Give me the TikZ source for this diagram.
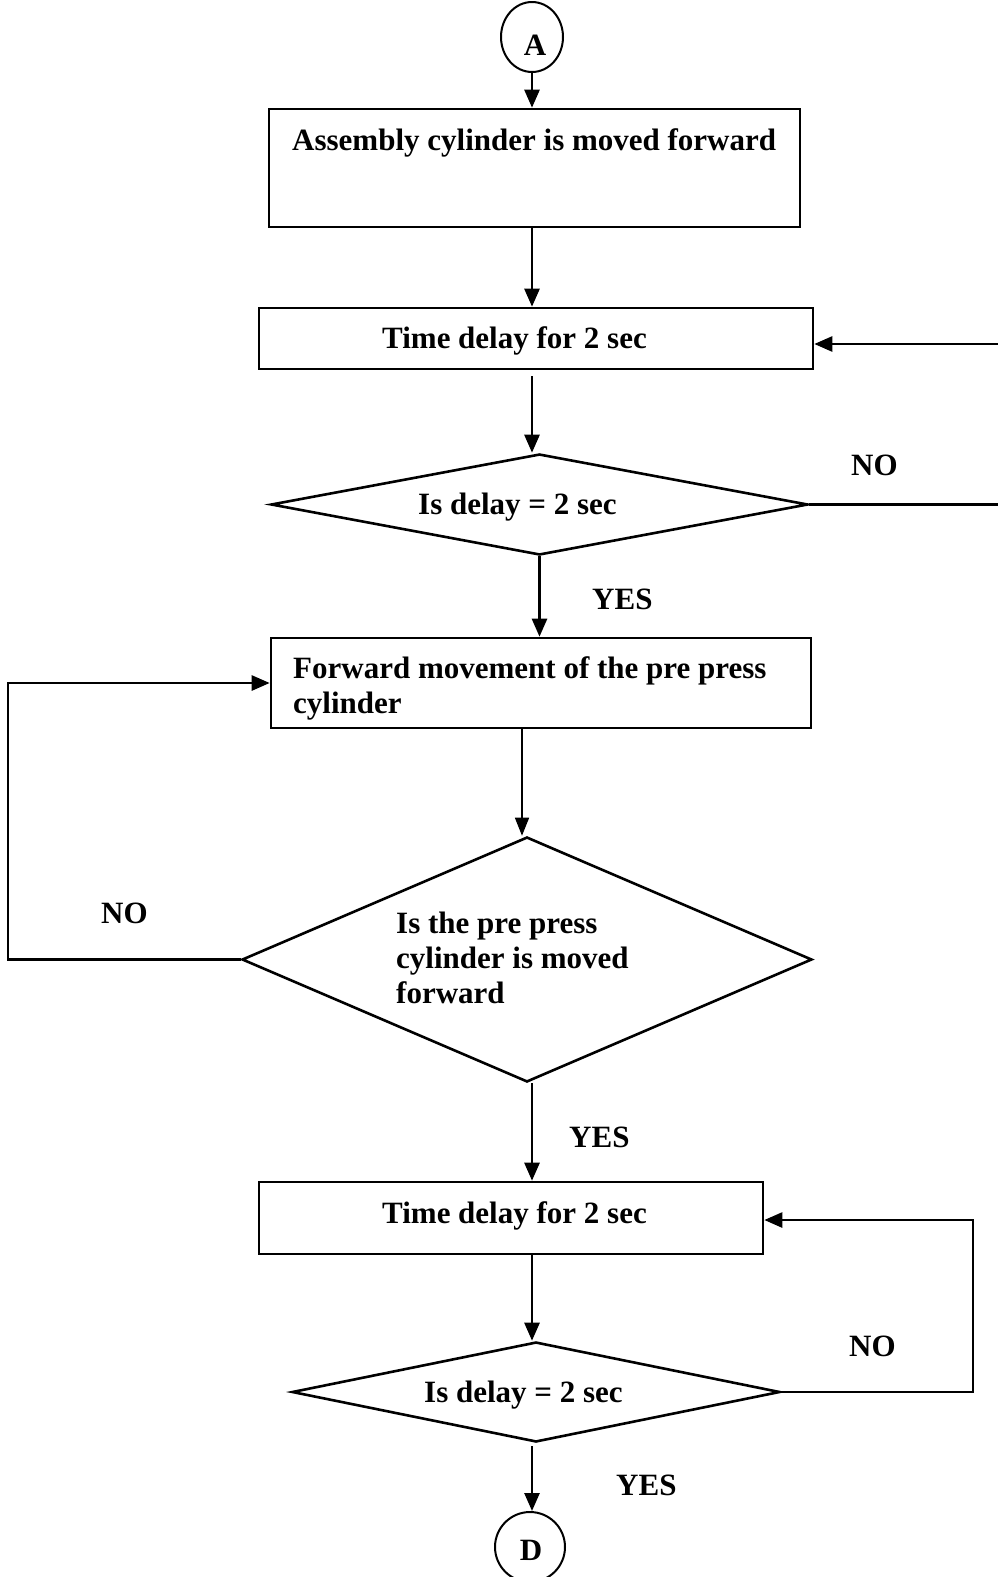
\documentclass[tikz,border=0pt]{standalone}
\usepackage{fontspec}
\setmainfont{Liberation Serif}
\usetikzlibrary{arrows.meta,shapes.geometric}
\begin{document}
\begin{tikzpicture}[x=1pt,y=-1pt,
  shapeline/.style={draw=black,line width=2.6pt,inner sep=0pt},
  boxnode/.style={shapeline,rectangle},
  decnode/.style={shapeline,diamond},
  termnode/.style={shapeline,line width=2pt,ellipse},
  txt/.style={inner sep=0pt,font=\fontsize{31}{35}\selectfont\bfseries},
  lettertxt/.style={inner sep=0pt,font=\fontsize{31}{33}\selectfont\bfseries},
  arr/.style={line width=2.6pt,line join=miter,-{Triangle[length=18pt,width=15pt]}},
  thinarr/.style={line width=1.6pt,-{Triangle[length=18pt,width=14pt]}}]
\fill[white] (0,0) rectangle (998,1577);
\useasboundingbox (0,0) rectangle (998,1577);

% shapes
\node[termnode,minimum width=62pt,minimum height=70pt] (A) at (532,37) {};
\node[boxnode,minimum width=531pt,minimum height=118pt] (b1) at (534.5,168) {};
\node[boxnode,minimum width=554pt,minimum height=61pt] (b2) at (536,338.5) {};
\node[decnode,minimum width=537pt,minimum height=101pt] (d1) at (539.5,504.5) {};
\node[boxnode,minimum width=540pt,minimum height=90pt] (b3) at (541,683) {};
\node[decnode,minimum width=570pt,minimum height=245pt] (d2) at (527,959.5) {};
\node[boxnode,minimum width=504pt,minimum height=72pt] (b4) at (511,1218) {};
\node[decnode,minimum width=488pt,minimum height=100pt] (d3) at (536,1392) {};
\node[termnode,minimum width=70pt,minimum height=70pt] (D) at (530,1547) {};

% texts
\node[lettertxt,anchor=base] (tA) at (535,55) {A};
\node[lettertxt,anchor=base] (tD) at (531,1560) {D};
\node[txt,anchor=base west] (t1) at (292,150) {Assembly cylinder is moved forward};
\node[txt,anchor=base west] (t2) at (382,348) {Time delay for 2 sec};
\node[txt,anchor=base west] (t3) at (418,514) {Is delay = 2 sec};
\node[txt,anchor=base west,align=left] (t4) at (293,713) {Forward movement of the pre press\\cylinder};
\node[txt,anchor=base west,align=left] (t5) at (396,1003) {Is the pre press\\cylinder is moved\\forward};
\node[txt,anchor=base west] (t6) at (382,1223) {Time delay for 2 sec};
\node[txt,anchor=base west] (t7) at (424,1402) {Is delay = 2 sec};

% labels
\node[txt,anchor=base west] (no1) at (851,475) {NO};
\node[txt,anchor=base west] (yes1) at (592,609) {YES};
\node[txt,anchor=base west] (no2) at (101,923) {NO};
\node[txt,anchor=base west] (yes2) at (569,1147) {YES};
\node[txt,anchor=base west] (no3) at (849,1356) {NO};
\node[txt,anchor=base west] (yes3) at (616,1495) {YES};

% helper coordinates for loop corners
\coordinate (rA) at (1008,344);
\coordinate (lA) at (8,683);
\coordinate (rB) at (973,1220);

% main flow
\draw[arr] (A.south) -- (A.south |- b1.north);
\draw[arr] (b1.south -| A) -- (b2.north -| A);
\draw[arr] ([yshift=-6pt]b2.south -| A) -- (d1.north -| A);
\draw[arr] (d1.south) -- (d1.south |- b3.north);
\draw[thinarr] ([xshift=-5pt]d2.north |- b3.south) -- ([xshift=-5pt]d2.north);
\draw[arr] (d2.south -| A) -- (b4.north -| A);
\draw[arr] (b4.south -| A) -- (d3.north -| A);
\draw[arr] ([yshift=-3pt]d3.south -| A) -- (D.north -| A);

% loops
\draw[arr] (d1.east) -- (d1.east -| rA) -- (rA) -- (b2.east |- rA);
\draw[arr] (d2.west) -- (d2.west -| lA) -- (lA) -- (b3.west);
\draw[arr] (d3.east) -- (d3.east -| rB) -- (rB) -- (b4.east |- rB);
\end{tikzpicture}
\end{document}
